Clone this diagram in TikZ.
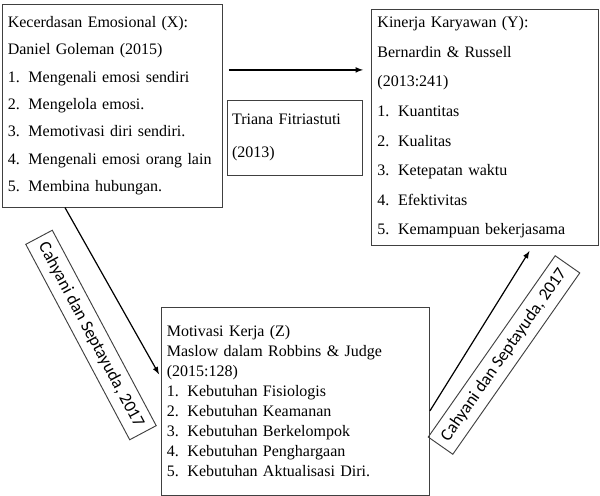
\documentclass[tikz,border=0pt]{standalone}
\usepackage{xcolor}
\usepackage{fontspec}
\setmainfont{Liberation Serif}
\newfontfamily\calib{Carlito}
\usepackage{tikz}
\usetikzlibrary{shapes,arrows,positioning}

\newcommand{\itm}[2]{\makebox[15.5pt][l]{#1}#2}

\tikzset{
  varbox/.style={draw=black!75, line width=0.7pt, anchor=north west, align=left,
    inner sep=0pt},
  refbox/.style={draw=black!75, line width=0.7pt, minimum width=166pt, minimum height=22.5pt,
    inner sep=2pt, font={\calib\fontsize{13}{15}\selectfont}},
  arr/.style={->, >=latex, line width=0.9pt}
}

\begin{document}
\begin{tikzpicture}[x=0.75pt, y=-0.75pt]
    \useasboundingbox (0,0) rectangle (600,496);

    % variable boxes
    \node[varbox, minimum width=165pt, minimum height=152pt, text width=157pt,
      font={\fontsize{12}{20.5}\selectfont}] (X) at (2,4) {%
      Kecerdasan Emosional (X):\\
      Daniel Goleman (2015)\\
      \itm{1.}{Mengenali emosi sendiri}\\
      \itm{2.}{Mengelola emosi.}\\
      \itm{3.}{Memotivasi diri sendiri.}\\
      \itm{4.}{Mengenali emosi orang lain}\\
      \itm{5.}{Membina hubungan.}};

    \node[varbox, minimum width=170pt, minimum height=177pt, text width=161pt,
      font={\fontsize{12}{22.2}\selectfont}] (Y) at (371,9) {%
      Kinerja Karyawan (Y):\\
      Bernardin \& Russell\\
      (2013:241)\\
      \itm{1.}{Kuantitas}\\
      \itm{2.}{Kualitas}\\
      \itm{3.}{Ketepatan waktu}\\
      \itm{4.}{Efektivitas}\\
      \itm{5.}{Kemampuan bekerjasama}};

    \node[varbox, minimum width=101pt, minimum height=56pt, text width=94pt,
      font={\fontsize{12}{24.7}\selectfont}] (T) at (227,100) {%
      Triana Fitriastuti\\
      (2013)};

    \node[varbox, minimum width=201pt, minimum height=141pt, text width=193pt,
      font={\fontsize{12}{15}\selectfont}] (Z) at (161,307) {%
      Motivasi Kerja (Z)\\
      Maslow dalam Robbins \& Judge\\
      (2015:128)\\
      \itm{1.}{Kebutuhan Fisiologis}\\
      \itm{2.}{Kebutuhan Keamanan}\\
      \itm{3.}{Kebutuhan Berkelompok}\\
      \itm{4.}{Kebutuhan Penghargaan}\\
      \itm{5.}{Kebutuhan Aktualisasi Diri.}\\[-6pt]};

    % references on the paths
    \node[refbox, rotate=-62] (R1) at (91,335) {Cahyani dan Septayuda, 2017};
    \node[refbox, rotate=55] (R2) at (504,355) {Cahyani dan Septayuda, 2017};

    % arrows
    \draw[arr, shorten <=4.5pt, shorten >=6pt] (X.18) -- (X.18 -| Y.west);
    \draw[arr, shorten >=3pt] (X.245) -- (Z.170);
    \draw[arr, shorten >=4.5pt] (Z.-4) -- (Y.-68);
\end{tikzpicture}
\end{document}
